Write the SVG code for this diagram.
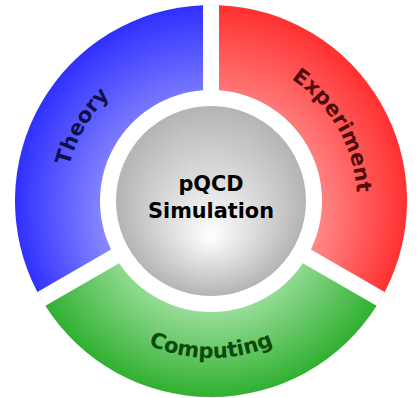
<svg xmlns="http://www.w3.org/2000/svg" xmlns:xlink="http://www.w3.org/1999/xlink" width="417" height="398" viewBox="0 0 417 398">
  <style>
    .lbl { font-family: "DejaVu Sans", Verdana, sans-serif; font-weight: bold; font-size: 21px; }
  </style>
  <defs>
    <radialGradient id="gBlue" gradientUnits="userSpaceOnUse" cx="211" cy="201" r="196" fx="211" fy="240">
      <stop offset="0.4" stop-color="#a4a4ff"/>
      <stop offset="1" stop-color="#3030ff"/>
    </radialGradient>
    <radialGradient id="gRed" gradientUnits="userSpaceOnUse" cx="211" cy="201" r="196" fx="211" fy="240">
      <stop offset="0.4" stop-color="#ffa4a4"/>
      <stop offset="1" stop-color="#ff3030"/>
    </radialGradient>
    <radialGradient id="gGreen" gradientUnits="userSpaceOnUse" cx="211" cy="201" r="196" fx="211" fy="240">
      <stop offset="0.4" stop-color="#a4e2a4"/>
      <stop offset="1" stop-color="#30b030"/>
    </radialGradient>
    <radialGradient id="gGray" gradientUnits="userSpaceOnUse" cx="211" cy="201" r="95" fx="211" fy="238">
      <stop offset="0" stop-color="#ffffff"/>
      <stop offset="1" stop-color="#b4b4b4"/>
    </radialGradient>
    <path id="pTheory" d="M 84.56,274 A 146 146 0 0 1 211,55"/>
    <path id="pExp" d="M 211,55 A 146 146 0 0 1 337.44,274"/>
    <path id="pComp" d="M 75.03,279.5 A 157 157 0 0 0 346.97,279.5"/>
  </defs>

  <circle cx="211" cy="201" r="196" fill="none" stroke="#e6e6e6" stroke-width="0.6"/>

  <g id="theory">
    <path d="M 203,5.16 A 196 196 0 0 0 37.40,291.99 L 111.12,249.43 A 111 111 0 0 1 203,90.29 Z" fill="url(#gBlue)"/>
    <text class="lbl" fill="#10104e"><textPath xlink:href="#pTheory" href="#pTheory" startOffset="50%" text-anchor="middle">Theory</textPath></text>
  </g>

  <g id="experiment">
    <path d="M 219,5.16 A 196 196 0 0 1 384.60,291.99 L 310.88,249.43 A 111 111 0 0 0 219,90.29 Z" fill="url(#gRed)"/>
    <text class="lbl" fill="#520a0a"><textPath xlink:href="#pExp" href="#pExp" startOffset="50%" text-anchor="middle">Experiment</textPath></text>
  </g>

  <g id="computing">
    <path d="M 45.40,305.85 A 196 196 0 0 0 376.60,305.85 L 302.88,263.29 A 111 111 0 0 1 119.12,263.29 Z" fill="url(#gGreen)"/>
    <text class="lbl" fill="#0a4a0a"><textPath xlink:href="#pComp" href="#pComp" startOffset="50%" text-anchor="middle">Computing</textPath></text>
  </g>

  <g id="center">
    <circle cx="211" cy="201" r="95" fill="url(#gGray)"/>
    <text class="lbl" x="211" y="191" text-anchor="middle" fill="#000000" style="font-size:20.8px">pQCD</text>
    <text class="lbl" x="211" y="217.5" text-anchor="middle" fill="#000000" style="font-size:20.8px">Simulation</text>
  </g>

  <g id="connectors"/>
</svg>
